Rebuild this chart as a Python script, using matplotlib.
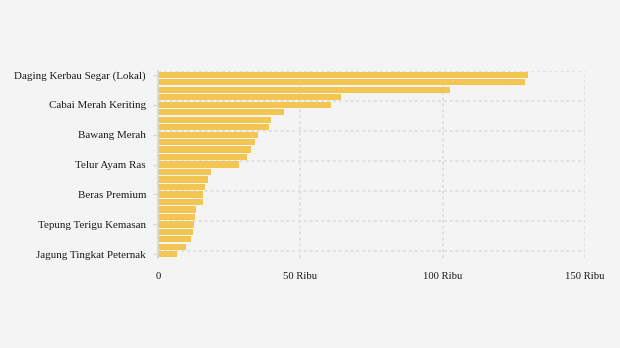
import numpy as np
import matplotlib.pyplot as plt

plt.rcParams['font.family'] = ['Liberation Serif', 'DejaVu Serif']

komoditas = [
    "Daging Kerbau Segar (Lokal)", "Daging Sapi Murni", "Daging Kerbau Beku (Impor)",
    "Cabai Rawit Merah", "Cabai Merah Keriting", "Bawang Putih Honan",
    "Ikan Bandeng", "Ikan Tongkol", "Bawang Merah", "Daging Ayam Ras",
    "Ikan Kembung", "Kedelai Biji Kering", "Telur Ayam Ras",
    "Minyak Goreng Curah", "Minyak Goreng Kemasan", "Gula Konsumsi",
    "Beras Premium", "Beras Medium", "Beras SPHP", "Garam Konsumsi",
    "Tepung Terigu Kemasan", "Tepung Terigu Curah", "Jagung Pipilan Kering",
    "Jagung Tingkat Produsen", "Jagung Tingkat Peternak",
]
harga_ribu = [
    130.0, 128.9, 102.6, 64.3, 60.8, 44.3, 39.6, 38.9, 35.1, 34.0,
    32.6, 31.2, 28.3, 18.5, 17.4, 16.4, 15.7, 15.7, 13.2, 12.9,
    12.5, 12.2, 11.5, 9.7, 6.6,
]
xticks = [0, 50, 100, 150]
xtick_labels = ["0", "50 Ribu", "100 Ribu", "150 Ribu"]

bg = "#f4f4f4"
grid_kw = dict(color="#e0e0e0", linestyle=(0, (1.5, 1.5)), linewidth=1.4, zorder=0)

fig = plt.figure(figsize=(6.2, 3.48), dpi=100, facecolor=bg)
ax = fig.add_axes([0.2548, 0.2586, 0.6887, 0.537], facecolor=bg)

y = np.arange(len(komoditas))
ax.barh(y, harga_ribu, height=0.84, color="#f2c650", zorder=2)

ax.set_xlim(0, 150)
ax.set_ylim(len(komoditas) - 0.5, -0.5)

# category ticks on every fourth item, gridlines on the band edge above it
shown = y[::4]
ax.set_yticks(shown)
ax.set_yticklabels([komoditas[i] for i in shown], fontsize=7.9, color="#1a1a1a")
ax.set_yticks(shown - 0.5, minor=True)
ax.tick_params(axis="y", which="major", length=3.6, color="#d8d8d8", width=1, pad=5)
ax.tick_params(axis="y", which="minor", length=0)
ax.grid(axis="y", which="minor", **grid_kw)

ax.set_xticks(xticks)
ax.set_xticklabels(xtick_labels, fontsize=7.7, color="#1a1a1a")
ax.tick_params(axis="x", length=0, pad=10)
ax.grid(axis="x", which="major", **grid_kw)

for side in ["top", "right", "bottom"]:
    ax.spines[side].set_visible(False)
ax.spines["left"].set_color("#d8d8d8")
ax.spines["left"].set_linewidth(1.2)

fig.savefig("out.png", dpi=100, facecolor=bg)
